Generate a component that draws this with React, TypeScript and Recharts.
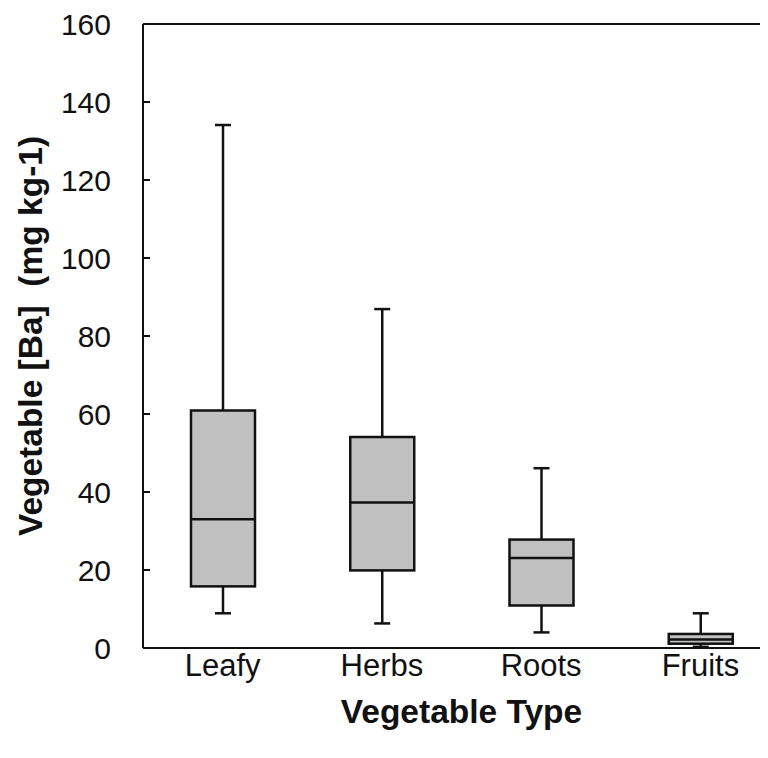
import React from 'react';
import { ComposedChart, Bar, XAxis, YAxis, ReferenceLine } from 'recharts';

const categories = ['Leafy', 'Herbs', 'Roots', 'Fruits'];
const minVals = [8.9, 6.3, 4.0, 0.3];
const q1Vals = [15.8, 19.9, 10.9, 1.1];
const medianVals = [33.0, 37.3, 23.1, 2.2];
const q3Vals = [60.9, 54.1, 27.8, 3.6];
const maxVals = [134.1, 86.9, 46.1, 8.9];
const yTicks = [0, 20, 40, 60, 80, 100, 120, 140, 160];

const data = categories.map((name, i) => ({
    name,
    box: [q1Vals[i], q3Vals[i]],
    min: minVals[i],
    q1: q1Vals[i],
    median: medianVals[i],
    q3: q3Vals[i],
    max: maxVals[i],
}));

const FONT = '"Liberation Sans", Arial, sans-serif';

// draws whiskers + box + median, using the bar rect (q1..q3) to get the pixel scale
const BoxShape = (props: any) => {
    const { x, y, width, height, payload } = props;
    const top = height >= 0 ? y : y + height;
    const h = Math.abs(height);
    const ppu = h / (payload.q3 - payload.q1);
    const yOf = (v: number) => top + (payload.q3 - v) * ppu;
    const cx = x + width / 2;
    const cap = 8;
    return (
        <g stroke="#111" strokeWidth={2.5} fill="none">
            <line x1={cx} x2={cx} y1={yOf(payload.max)} y2={yOf(payload.q3)} />
            <line x1={cx - cap} x2={cx + cap} y1={yOf(payload.max)} y2={yOf(payload.max)} />
            <line x1={cx} x2={cx} y1={yOf(payload.q1)} y2={yOf(payload.min)} />
            <line x1={cx - cap} x2={cx + cap} y1={yOf(payload.min)} y2={yOf(payload.min)} />
            <rect x={x} y={top} width={width} height={h} fill="#c0c0c0" />
            <line x1={x} x2={x + width} y1={yOf(payload.median)} y2={yOf(payload.median)} />
        </g>
    );
};

const YTitle = (props: any) => {
    const { viewBox } = props;
    const cx = viewBox.x + 22;
    const cy = viewBox.y + viewBox.height / 2;
    return (
        <text
            x={cx}
            y={cy}
            transform={`rotate(-90 ${cx} ${cy})`}
            textAnchor="middle"
            dominantBaseline="central"
            fontFamily={FONT}
            fontWeight="bold"
            fontSize={33.5}
            fill="#111"
            style={{ whiteSpace: 'pre' }}
        >
            {'Vegetable [Ba]  (mg kg-1)'}
        </text>
    );
};

const XTitle = (props: any) => {
    const { viewBox } = props;
    return (
        <text
            x={viewBox.x + viewBox.width / 2}
            y={viewBox.y + 63}
            textAnchor="middle"
            dominantBaseline="central"
            fontFamily={FONT}
            fontWeight="bold"
            fontSize={33.5}
            fill="#111"
        >
            Vegetable Type
        </text>
    );
};

export default function App() {
    return (
        <div style={{ width: 760, height: 750, overflow: 'hidden' }}>
            <ComposedChart width={772} height={750} data={data} margin={{ top: 16, right: 0, bottom: 0, left: 0 }}>
                <XAxis
                    dataKey="name"
                    height={110}
                    tickLine={false}
                    tickSize={0}
                    tickMargin={6}
                    axisLine={{ stroke: '#111', strokeWidth: 2 }}
                    tick={{ fontSize: 31, fill: '#111', fontFamily: FONT }}
                    label={<XTitle />}
                />
                <YAxis
                    width={135}
                    domain={[0, 160]}
                    ticks={yTicks}
                    interval={0}
                    tickSize={-7}
                    tickMargin={39}
                    axisLine={{ stroke: '#111', strokeWidth: 2 }}
                    tickLine={{ stroke: '#111', strokeWidth: 2 }}
                    tick={{ fontSize: 30, fill: '#111', fontFamily: FONT }}
                    label={<YTitle />}
                />
                <ReferenceLine y={160} stroke="#111" strokeWidth={2} />
                <Bar dataKey="box" barSize={64} shape={<BoxShape />} isAnimationActive={false} />
            </ComposedChart>
        </div>
    );
}
